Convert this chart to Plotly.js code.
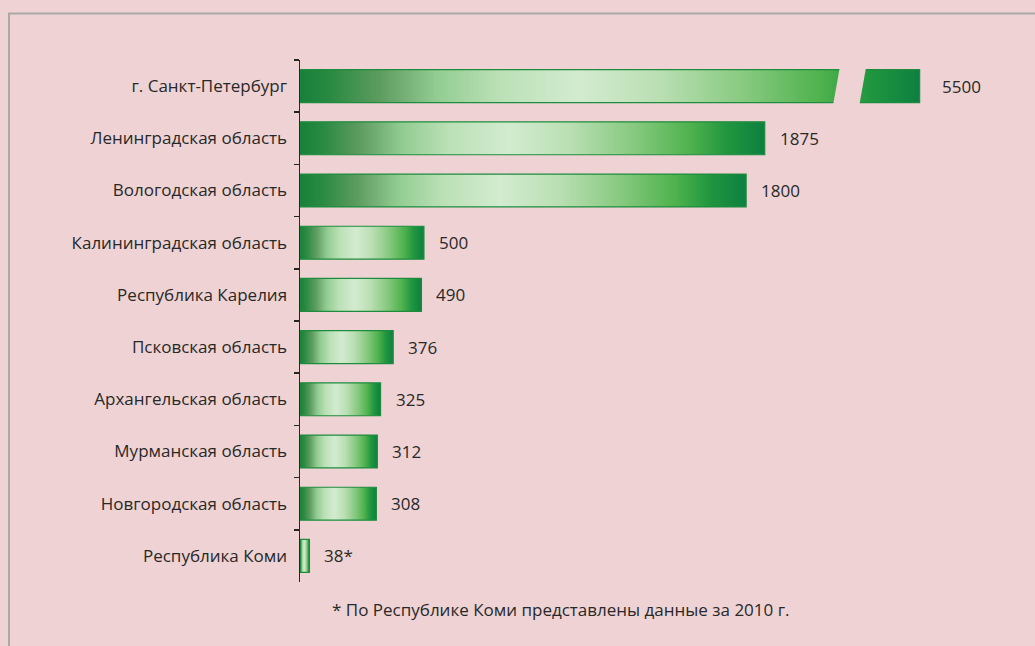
<!DOCTYPE html>
<html>
<head>
<meta charset="utf-8">
<script src="https://cdn.plot.ly/plotly-3.0.1.min.js"></script>
<style>
html,body{margin:0;padding:0;background:#efd3d4;}
#chart{width:1035px;height:646px;}
</style>
</head>
<body>
<div id="chart"></div>
<script>
// Data
const regions = [
  "г. Санкт-Петербург",
  "Ленинградская область",
  "Вологодская область",
  "Калининградская область",
  "Республика Карелия",
  "Псковская область",
  "Архангельская область",
  "Мурманская область",
  "Новгородская область",
  "Республика Коми"
];
const values = [5500, 1875, 1800, 500, 490, 376, 325, 312, 308, 38];
const valueLabels = ["5500", "1875", "1800", "500", "490", "376", "325", "312", "308", "38*"];
const footnote = "* По Республике Коми представлены данные за 2010 г.";

// Broken-axis display: values above the cap are drawn shortened with a break
const breakCap = 2500;
const displayValues = values.map(v => v > breakCap ? breakCap : v);

const bg = "#efd3d4";
const txt = "#282828";
const fontFam = "'Open Sans', 'Noto Sans', sans-serif";
const bargap = 0.37;

const trace = {
  type: "bar",
  orientation: "h",
  y: regions,
  x: displayValues,
  marker: { color: "#6fbf6f", line: { color: "#1e8c3e", width: 1.2 } },
  hoverinfo: "skip"
};

const annotations = regions.map((r, i) => ({
  x: displayValues[i], y: r, xref: "x", yref: "y",
  text: valueLabels[i], showarrow: false,
  xanchor: "left", yanchor: "middle", xshift: values[i] > breakCap ? 20 : 13,
  font: { family: fontFam, size: 17, color: txt }
}));
annotations.push({
  x: 0.376, y: -0.052, xref: "paper", yref: "paper",
  text: footnote, showarrow: false, xanchor: "center", yanchor: "middle",
  font: { family: fontFam, size: 17, color: txt }
});

// break marks (parallelogram gaps in background colour) for capped bars
const shapes = [];
const n = regions.length;
values.forEach((v, i) => {
  if (v > breakCap) {
    const slot = 1 / n;
    const top = 1 - i * slot - slot * 0.12;
    const bot = 1 - (i + 1) * slot + slot * 0.12;
    const a = breakCap - 328, b = breakCap - 222, s = 22;
    shapes.push({
      type: "path", xref: "x", yref: "paper",
      path: `M ${a - s},${bot} L ${a + s * 0.3},${top} L ${b + s * 0.3},${top} L ${b - s},${bot} Z`,
      fillcolor: bg, line: { width: 0 }, layer: "above"
    });
  }
});
// frame (top + left edge)
shapes.push({
  type: "path", xref: "paper", yref: "paper",
  path: "M -0.4193,-0.3 L -0.4193,1.0891 L 1.2,1.0891",
  line: { color: "#a9a9a9", width: 2 }, fillcolor: "rgba(0,0,0,0)"
});

const layout = {
  width: 1035, height: 646,
  paper_bgcolor: bg, plot_bgcolor: bg,
  margin: { l: 300, r: 41, t: 60, b: 64 },
  showlegend: false,
  bargap: bargap,
  xaxis: { range: [0, 2800], visible: false, fixedrange: true },
  yaxis: {
    type: "category", autorange: "reversed",
    showline: true, linecolor: "#262626", linewidth: 1.5,
    ticks: "outside", tickson: "boundaries", ticklen: 5, tickcolor: "#262626", tickwidth: 1.5,
    ticklabelstandoff: 8,
    showgrid: false, zeroline: false,
    tickfont: { family: fontFam, size: 17, color: txt }
  },
  annotations: annotations,
  shapes: shapes
};

const gd = document.getElementById("chart");
function applyGradient() {
  const svg = gd.querySelector(".main-svg");
  if (!svg) return;
  let defs = svg.querySelector("defs");
  if (!defs.querySelector("#barGrad")) {
    const ns = "http://www.w3.org/2000/svg";
    const g = document.createElementNS(ns, "linearGradient");
    g.setAttribute("id", "barGrad");
    g.setAttribute("x1", "0"); g.setAttribute("y1", "0");
    g.setAttribute("x2", "1"); g.setAttribute("y2", "0");
    const stops = [
      [0, "#17803a"], [0.05, "#2a8a42"], [0.13, "#5e9c60"], [0.22, "#92cc92"],
      [0.32, "#bbe0b6"], [0.45, "#d3ebd0"], [0.58, "#badfb3"], [0.72, "#86c97f"],
      [0.84, "#4fb24d"], [0.92, "#20963f"], [1, "#0d8040"]
    ];
    stops.forEach(([o, c]) => {
      const s = document.createElementNS(ns, "stop");
      s.setAttribute("offset", o); s.setAttribute("stop-color", c);
      g.appendChild(s);
    });
    defs.appendChild(g);
  }
  gd.querySelectorAll(".bars .point path").forEach(p => {
    p.style.fill = "url(#barGrad)";
  });
}
Plotly.newPlot(gd, [trace], layout, { displayModeBar: false, staticPlot: true }).then(applyGradient);
gd.on && gd.on("plotly_afterplot", applyGradient);
</script>
</body>
</html>
